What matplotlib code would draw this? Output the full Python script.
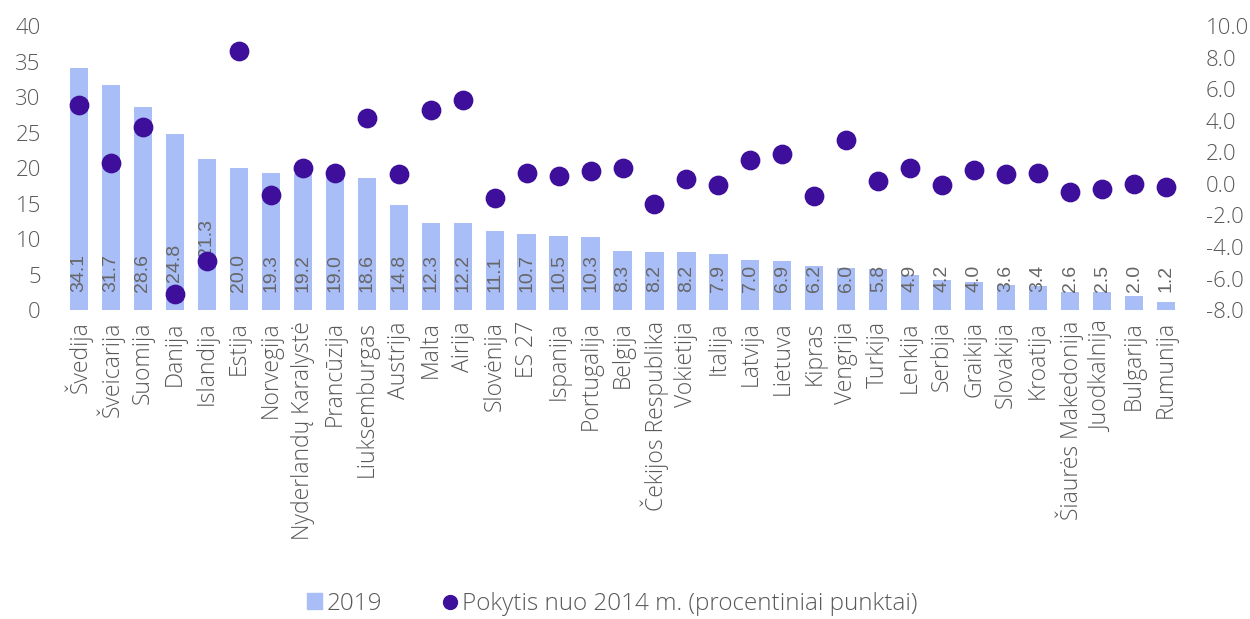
import numpy as np
import matplotlib.pyplot as plt
from matplotlib.lines import Line2D
from matplotlib.patches import Patch

countries = ['Švedija', 'Šveicarija', 'Suomija', 'Danija', 'Islandija', 'Estija',
             'Norvegija', 'Nyderlandų Karalystė', 'Prancūzija', 'Liuksemburgas',
             'Austrija', 'Malta', 'Airija', 'Slovėnija', 'ES 27', 'Ispanija',
             'Portugalija', 'Belgija', 'Čekijos Respublika', 'Vokietija', 'Italija',
             'Latvija', 'Lietuva', 'Kipras', 'Vengrija', 'Turkija', 'Lenkija',
             'Serbija', 'Graikija', 'Slovakija', 'Kroatija', 'Šiaurės Makedonija',
             'Juodkalnija', 'Bulgarija', 'Rumunija']
share_2019 = [34.1, 31.7, 28.6, 24.8, 21.3, 20.0, 19.3, 19.2, 19.0, 18.6,
              14.8, 12.3, 12.2, 11.1, 10.7, 10.5, 10.3, 8.3, 8.2, 8.2,
              7.9, 7.0, 6.9, 6.2, 6.0, 5.8, 4.9, 4.2, 4.0, 3.6,
              3.4, 2.6, 2.5, 2.0, 1.2]
change_2014 = [5.0, 1.3, 3.6, -7.0, -4.9, 8.4, -0.7, 1.0, 0.7, 4.2,
               0.6, 4.7, 5.3, -0.9, 0.7, 0.5, 0.8, 1.0, -1.3, 0.3,
               -0.1, 1.5, 1.9, -0.8, 2.8, 0.2, 1.0, -0.1, 0.9, 0.6,
               0.7, -0.5, -0.3, 0.0, -0.2]

bar_color = '#A9BEF7'
dot_color = '#3D0F9B'
grey = '#595959'
font = ['Open Sans', 'DejaVu Sans']

fig = plt.figure(figsize=(12.5, 6.19), dpi=100)
ax = fig.add_axes([0.0504, 0.499, 0.8952, 0.459])
ax2 = ax.twinx()

x = np.arange(len(countries))
ax.bar(x, share_2019, width=0.57, color=bar_color, zorder=1)

# label offsets (points) where the dot sits on the label
lift = [0] * len(countries)
lift[3] = 7
lift[4] = 25
for i, v in enumerate(share_2019):
    ax.annotate(f'{v:.1f}', xy=(i, 0), xytext=(0, 13 + lift[i]), textcoords='offset points',
                rotation=90, ha='center', va='bottom', fontsize=14,
                family=['Liberation Sans', 'DejaVu Sans'], color='#666666', zorder=3)

ax2.scatter(x, change_2014, s=175, color=dot_color, zorder=4)

ax.set_xlim(-0.5, len(countries) - 0.5)
ax.set_ylim(0, 40)
ax2.set_ylim(-8, 10)
ax.set_yticks(np.arange(0, 41, 5))
ax2.set_yticks(np.arange(-8, 10.1, 2))
ax2.set_yticklabels([f'{v:.1f}' for v in np.arange(-8, 10.1, 2)])
ax.set_xticks(x)
ax.set_xticklabels(countries, rotation=90, family=font, fontsize=16.5, color=grey,
                   weight='light')
for a in (ax, ax2):
    for s in a.spines.values():
        s.set_visible(False)
    a.tick_params(length=0, labelsize=16, labelcolor=grey)
    for t in a.get_yticklabels():
        t.set_family(font)
        t.set_weight('light')
ax.tick_params(axis='y', pad=16)
ax.tick_params(axis='x', pad=8, labelsize=16.5)
ax2.tick_params(axis='y', pad=17)

handles = [Patch(color=bar_color, label='2019'),
           Line2D([], [], marker='o', ls='', color=dot_color, markersize=10,
                  label='Pokytis nuo 2014 m. (procentiniai punktai)')]
fig.legend(handles=handles, loc='lower center', bbox_to_anchor=(0.49, -0.03), ncol=2,
           frameon=False, handlelength=0.6, handleheight=0.6, handletextpad=0.2,
           columnspacing=2.5, prop={'family': font, 'size': 17.5, 'weight': 'light'},
           labelcolor=grey)

fig.savefig('out.png', dpi=100)
